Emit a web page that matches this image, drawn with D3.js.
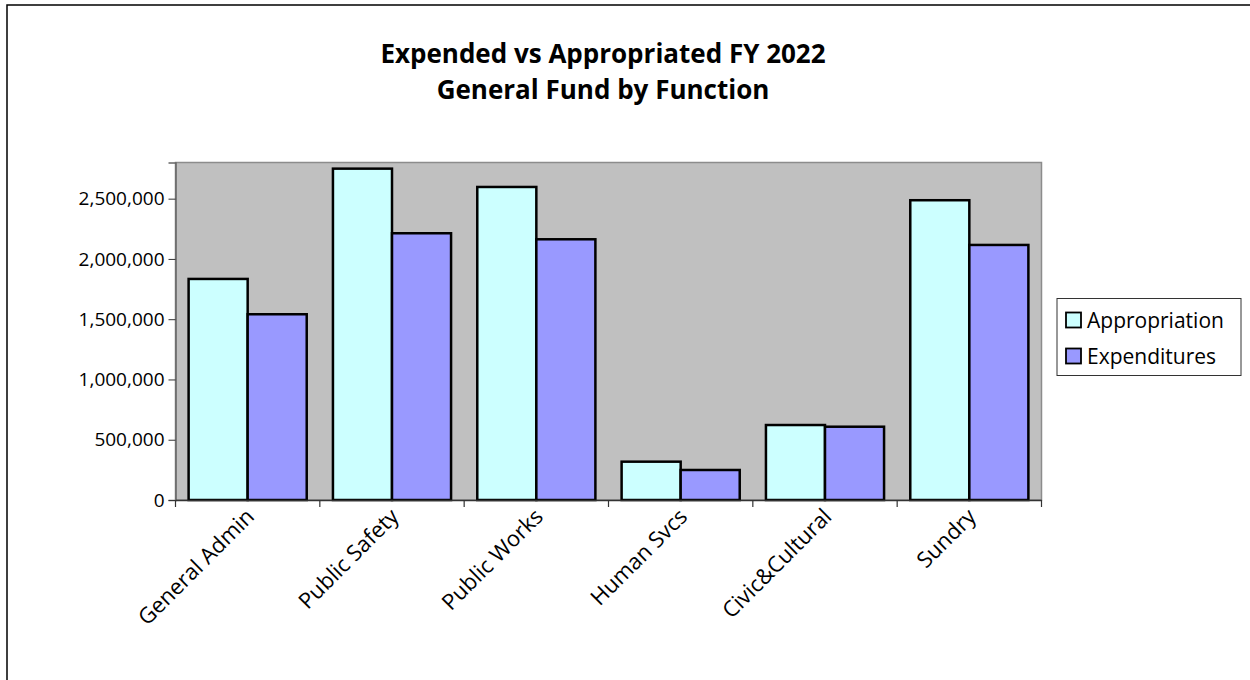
<!DOCTYPE html>
<html>
<head>
<meta charset="utf-8">
<script src="https://cdn.jsdelivr.net/npm/d3@7"></script>
<style>
  body { margin: 0; background: #fff; }
  svg { display: block; font-family: "Open Sans", "Noto Sans", sans-serif; }
</style>
</head>
<body>
<svg id="chart"></svg>
<script>
let categories = ["General Admin", "Public Safety", "Public Works", "Human Svcs", "Civic&Cultural", "Sundry"]
let appropriation = [1834000, 2749000, 2597000, 318000, 622000, 2487000]
let expenditures = [1541000, 2213000, 2163000, 249000, 608000, 2116000]
let seriesNames = ["Appropriation", "Expenditures"]
let yTicks = [0, 500000, 1000000, 1500000, 2000000, 2500000]

let svg = d3.select("#chart")
            .attr("width", 1250)
            .attr("height", 680)

let colors = ["#CCFFFF", "#9999FF"]
let plot = {left: 175.5, right: 1041.5, top: 162.5, bottom: 500}

// outer chart frame (runs off the right and bottom edge)
svg.append("rect")
    .attr("x", 7).attr("y", 5)
    .attr("width", 1300).attr("height", 700)
    .attr("fill", "none").attr("stroke", "#000").attr("stroke-width", 1.5)

svg.append("text")
    .attr("x", 603).attr("y", 63)
    .attr("text-anchor", "middle")
    .attr("font-weight", "bold").attr("font-size", 26)
    .text("Expended vs Appropriated FY 2022")
svg.append("text")
    .attr("x", 603).attr("y", 99)
    .attr("text-anchor", "middle")
    .attr("font-weight", "bold").attr("font-size", 26)
    .text("General Fund by Function")

let x = d3.scaleBand()
            .domain(categories)
            .range([plot.left, plot.right])
            .paddingInner(0).paddingOuter(0)
let xs = d3.scaleBand()
            .domain(seriesNames)
            .range([0, x.bandwidth()])
            .paddingInner(0).paddingOuter(0.222)
let y = d3.scaleLinear()
            .domain([0, 2800000])
            .range([plot.bottom, plot.top])

svg.append("rect")
    .attr("x", plot.left).attr("y", plot.top)
    .attr("width", plot.right - plot.left).attr("height", plot.bottom - plot.top)
    .attr("fill", "#C0C0C0").attr("stroke", "#8c8c8c").attr("stroke-width", 1.5)

let rows = categories.map((c, i) => ({cat: c, vals: [appropriation[i], expenditures[i]]}))

svg.append("g").selectAll("g")
    .data(rows)
    .enter()
    .append("g")
    .attr("transform", d => `translate(${x(d.cat)},0)`)
    .selectAll("rect")
    .data(d => d.vals.map((v, j) => ({name: seriesNames[j], v: v, j: j})))
    .enter()
    .append("rect")
    .attr("x", d => xs(d.name))
    .attr("y", d => y(d.v))
    .attr("width", xs.bandwidth())
    .attr("height", d => y(0) - y(d.v))
    .attr("fill", d => colors[d.j])
    .attr("stroke", "#000").attr("stroke-width", 2.5)

// y axis
let yAxis = svg.append("g")
    .attr("transform", `translate(${plot.left},0)`)
    .call(d3.axisLeft(y).tickValues(yTicks).tickSize(7).tickPadding(4).tickFormat(d3.format(",")))
yAxis.select(".domain").attr("stroke", "#666").attr("stroke-width", 1.5)
yAxis.selectAll(".tick line").attr("stroke", "#333")
yAxis.selectAll("text").attr("font-size", 19).attr("fill", "#000")
    .attr("font-family", "'Open Sans', sans-serif")

// x axis baseline with labels
let xAxis = svg.append("g")
    .attr("transform", `translate(0,${plot.bottom})`)
    .call(d3.axisBottom(x).tickSize(0).tickPadding(0))
xAxis.select(".domain").attr("stroke", "#333").attr("stroke-width", 1.5)
xAxis.selectAll("text")
    .attr("font-size", 22).attr("fill", "#000")
    .attr("font-family", "'Open Sans', sans-serif")
    .attr("text-anchor", "end")
    .attr("dy", 0)
    .attr("transform", "translate(8,18) rotate(-45)")

// category boundary ticks
let bounds = categories.map(c => x(c)).concat([plot.right])
svg.append("g").selectAll("line")
    .data(bounds)
    .enter()
    .append("line")
    .attr("x1", d => d).attr("x2", d => d)
    .attr("y1", plot.bottom).attr("y2", plot.bottom + 7)
    .attr("stroke", "#333").attr("stroke-width", 1.2)

// legend
let legend = svg.append("g")
legend.append("rect")
    .attr("x", 1057).attr("y", 298.5)
    .attr("width", 184).attr("height", 77)
    .attr("fill", "#fff").attr("stroke", "#333").attr("stroke-width", 1)
let items = legend.selectAll("g")
    .data(seriesNames)
    .enter()
    .append("g")
    .attr("transform", (d, i) => `translate(1066,${320 + i * 36})`)
items.append("rect")
    .attr("x", 0).attr("y", -7.5)
    .attr("width", 15).attr("height", 15)
    .attr("fill", (d, i) => colors[i])
    .attr("stroke", "#000").attr("stroke-width", 1.8)
items.append("text")
    .attr("x", 21).attr("y", 0).attr("dy", "0.36em")
    .attr("font-size", 21)
    .text(d => d)
</script>
</body>
</html>
